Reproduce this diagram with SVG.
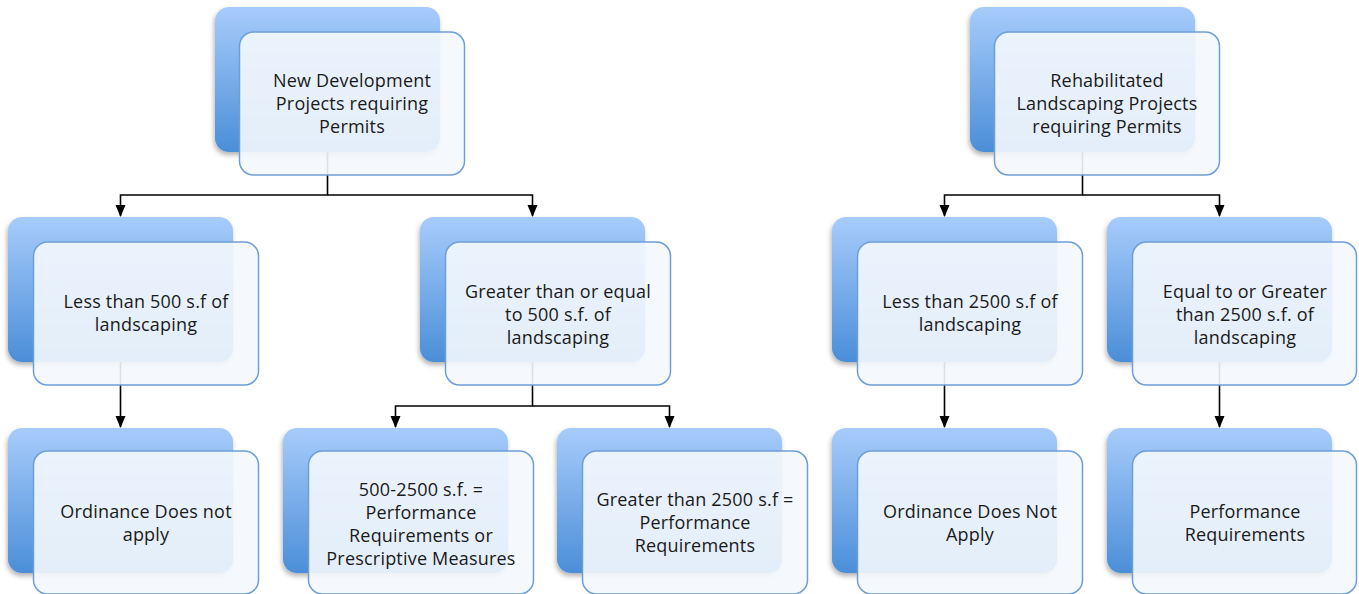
<svg xmlns="http://www.w3.org/2000/svg" width="1359" height="594" viewBox="0 0 1359 594">
<defs>
<linearGradient id="bg" x1="0" y1="0" x2="0" y2="1">
<stop offset="0" stop-color="#a7ccfb"/>
<stop offset="1" stop-color="#4b8ed8"/>
</linearGradient>
<filter id="sh" x="-10%" y="-10%" width="125%" height="125%">
<feDropShadow dx="-1" dy="3" stdDeviation="2.5" flood-color="#000" flood-opacity="0.3"/>
</filter>
</defs>
<style>
.back{fill:url(#bg);filter:url(#sh)}
.front{fill:#f4f8fd;fill-opacity:0.9;stroke:#6d9fd6;stroke-width:1.5}
.t{font-family:"Open Sans","Liberation Sans",sans-serif;font-size:18px;letter-spacing:0.2px;fill:#1a1a1a;text-anchor:middle}
.c{fill:none;stroke:#000;stroke-width:1.6}
</style>
<g id="connectors">
<path class="c" d="M327.5,150 V195 H120.5 V216"/>
<path class="c" d="M327.5,195 H532.5 V216"/>
<path class="c" d="M1082.5,150 V195 H944.5 V216"/>
<path class="c" d="M1082.5,195 H1219.5 V216"/>
<path class="c" d="M120.5,360 V427"/>
<path class="c" d="M532.5,360 V406 H395.5 V427"/>
<path class="c" d="M532.5,406 H669.5 V427"/>
<path class="c" d="M944.5,360 V427"/>
<path class="c" d="M1219.5,360 V427"/>
<path d="M115.5,205 L125.5,205 L120.5,217 Z"/>
<path d="M527.5,205 L537.5,205 L532.5,217 Z"/>
<path d="M939.5,205 L949.5,205 L944.5,217 Z"/>
<path d="M1214.5,205 L1224.5,205 L1219.5,217 Z"/>
<path d="M115.5,416 L125.5,416 L120.5,428 Z"/>
<path d="M390.5,416 L400.5,416 L395.5,428 Z"/>
<path d="M664.5,416 L674.5,416 L669.5,428 Z"/>
<path d="M939.5,416 L949.5,416 L944.5,428 Z"/>
<path d="M1214.5,416 L1224.5,416 L1219.5,428 Z"/>
</g>
<g id="n-new">
<rect class="back" x="215" y="7" width="225" height="145" rx="14"/>
<rect class="front" x="239.5" y="32" width="225" height="143" rx="14"/>
<text class="t" x="352" y="87">New Development</text>
<text class="t" x="352" y="110">Projects requiring</text>
<text class="t" x="352" y="133">Permits</text>
</g>
<g id="n-rehab">
<rect class="back" x="970" y="7" width="225" height="145" rx="14"/>
<rect class="front" x="994.5" y="32" width="225" height="143" rx="14"/>
<text class="t" x="1107" y="87">Rehabilitated</text>
<text class="t" x="1107" y="110">Landscaping Projects</text>
<text class="t" x="1107" y="133">requiring Permits</text>
</g>
<g id="n-lt500">
<rect class="back" x="8" y="217" width="225" height="145" rx="14"/>
<rect class="front" x="33.5" y="242" width="225" height="143" rx="14"/>
<text class="t" x="146" y="308">Less than 500 s.f of</text>
<text class="t" x="146" y="331">landscaping</text>
</g>
<g id="n-ge500">
<rect class="back" x="420" y="217" width="225" height="145" rx="14"/>
<rect class="front" x="445.5" y="242" width="225" height="143" rx="14"/>
<text class="t" x="558" y="298">Greater than or equal</text>
<text class="t" x="558" y="321">to 500 s.f. of</text>
<text class="t" x="558" y="344">landscaping</text>
</g>
<g id="n-lt2500">
<rect class="back" x="832" y="217" width="225" height="145" rx="14"/>
<rect class="front" x="857.5" y="242" width="225" height="143" rx="14"/>
<text class="t" x="970" y="308">Less than 2500 s.f of</text>
<text class="t" x="970" y="331">landscaping</text>
</g>
<g id="n-ge2500">
<rect class="back" x="1107" y="217" width="225" height="145" rx="14"/>
<rect class="front" x="1132.5" y="242" width="224" height="143" rx="14"/>
<text class="t" x="1245" y="298">Equal to or Greater</text>
<text class="t" x="1245" y="321">than 2500 s.f. of</text>
<text class="t" x="1245" y="344">landscaping</text>
</g>
<g id="n-ord1">
<rect class="back" x="8" y="428" width="225" height="145" rx="14"/>
<rect class="front" x="33.5" y="451" width="225" height="143" rx="14"/>
<text class="t" x="146" y="518">Ordinance Does not</text>
<text class="t" x="146" y="541">apply</text>
</g>
<g id="n-500-2500">
<rect class="back" x="283" y="428" width="225" height="145" rx="14"/>
<rect class="front" x="308.5" y="451" width="225" height="143" rx="14"/>
<text class="t" x="421" y="496">500-2500 s.f. =</text>
<text class="t" x="421" y="519">Performance</text>
<text class="t" x="421" y="542">Requirements or</text>
<text class="t" x="421" y="565">Prescriptive Measures</text>
</g>
<g id="n-gt2500">
<rect class="back" x="557" y="428" width="225" height="145" rx="14"/>
<rect class="front" x="582.5" y="451" width="225" height="143" rx="14"/>
<text class="t" x="695" y="506">Greater than 2500 s.f =</text>
<text class="t" x="695" y="529">Performance</text>
<text class="t" x="695" y="552">Requirements</text>
</g>
<g id="n-ord2">
<rect class="back" x="832" y="428" width="225" height="145" rx="14"/>
<rect class="front" x="857.5" y="451" width="225" height="143" rx="14"/>
<text class="t" x="970" y="518">Ordinance Does Not</text>
<text class="t" x="970" y="541">Apply</text>
</g>
<g id="n-perf">
<rect class="back" x="1107" y="428" width="225" height="145" rx="14"/>
<rect class="front" x="1132.5" y="451" width="224" height="143" rx="14"/>
<text class="t" x="1245" y="518">Performance</text>
<text class="t" x="1245" y="541">Requirements</text>
</g>
</svg>
